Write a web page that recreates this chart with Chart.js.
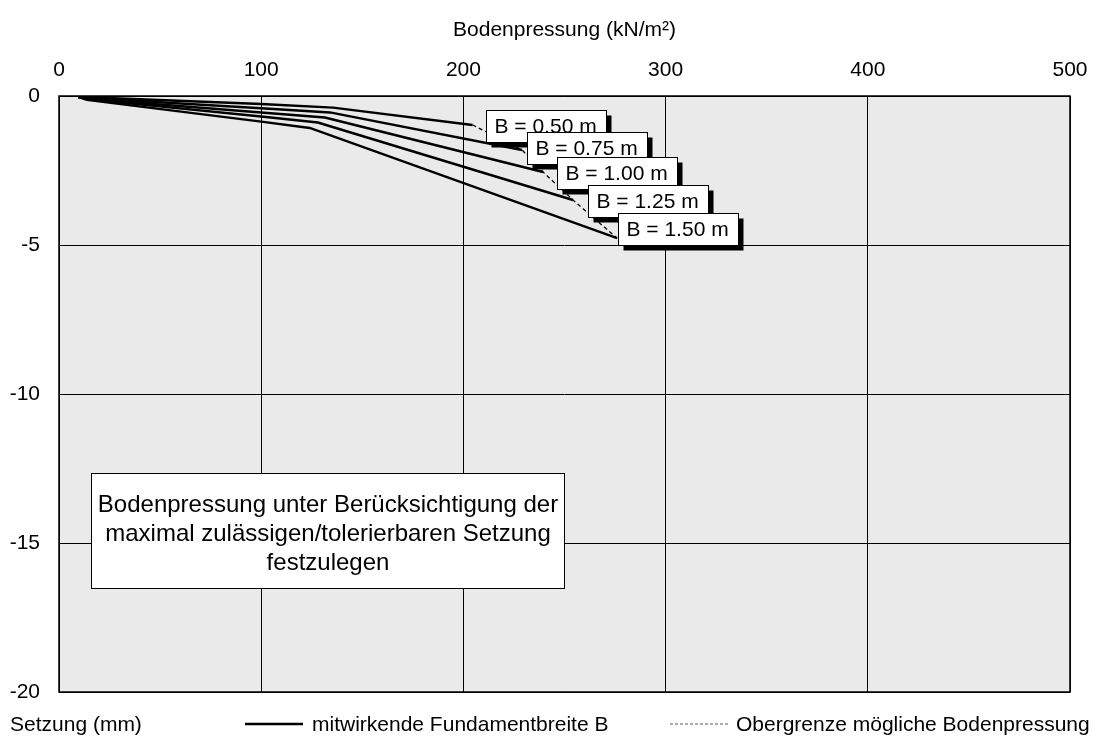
<!DOCTYPE html>
<html><head><meta charset="utf-8">
<script src="https://cdn.jsdelivr.net/npm/chart.js@4.4.1/dist/chart.umd.min.js"></script>
<style>html,body{margin:0;padding:0;background:#fff;}#wrap{width:1105px;height:744px;position:relative;}</style>
</head><body><div id="wrap"><canvas id="c"></canvas></div>
<script>
// ---- data ----
const seriesNames = ['B = 0.50 m','B = 0.75 m','B = 1.00 m','B = 1.25 m','B = 1.50 m'];
const pressB050 = [9.5, 13.8, 100, 135.5, 204.5];
const setzB050  = [-0.03, -0.04, -0.27, -0.39, -0.97];
const pressB075 = [9.5, 13.8, 100, 134, 229];
const setzB075  = [-0.03, -0.065, -0.41, -0.55, -1.81];
const pressB100 = [9.5, 13.8, 100, 131.5, 239.4];
const setzB100  = [-0.03, -0.09, -0.55, -0.72, -2.55];
const pressB125 = [9.5, 13.8, 100, 128, 254.2];
const setzB125  = [-0.03, -0.105, -0.69, -0.89, -3.49];
const pressB150 = [9.5, 13.8, 100, 124, 276];
const setzB150  = [-0.03, -0.13, -0.86, -1.07, -4.77];
const pressLimit = [204.5, 229, 239.4, 254.2, 276];
const setzLimit  = [-0.97, -1.81, -2.55, -3.49, -4.77];
const xTickValues = [0, 100, 200, 300, 400, 500];
const yTickValues = [0, -5, -10, -15, -20];
const xTitle = 'Bodenpressung (kN/m²)';
const yTitle = 'Setzung (mm)';
const legendSolid = 'mitwirkende Fundamentbreite B';
const legendDashed = 'Obergrenze mögliche Bodenpressung';
const noteLines = ['Bodenpressung unter Berücksichtigung der', 'maximal zulässigen/tolerierbaren Setzung', 'festzulegen'];

// ---- styling ----
const FONT = "'Liberation Sans', Arial, Helvetica, sans-serif";
const labelOffsets = [[14,-15],[5,-18],[14,-15],[15,-15],[1,-25]]; // px offset of label box from series end
const pairs = (xs, ys) => xs.map((x, i) => ({x, y: ys[i]}));
const solidSets = [[pressB050,setzB050],[pressB075,setzB075],[pressB100,setzB100],[pressB125,setzB125],[pressB150,setzB150]];

const datasets = solidSets.map((s, i) => ({
  label: seriesNames[i], data: pairs(s[0], s[1]), showLine: true,
  borderColor: '#000', borderWidth: 2.5, pointRadius: 0, tension: 0, fill: false
}));
datasets.push({
  label: legendDashed, data: pairs(pressLimit, setzLimit), showLine: true,
  borderColor: '#000', borderWidth: 1.3, borderDash: [4, 3], pointRadius: 0, tension: 0, fill: false
});

const deco = {
  id: 'deco',
  beforeDraw(chart) {
    const {ctx, chartArea: a} = chart;
    ctx.save(); ctx.fillStyle = '#eaeaea';
    ctx.fillRect(a.left, a.top, a.right - a.left, a.bottom - a.top);
    ctx.restore();
  },
  afterDatasetsDraw(chart) {
    const {ctx} = chart;
    ctx.save();
    // series labels
    ctx.font = '21px ' + FONT; ctx.textBaseline = 'middle'; ctx.textAlign = 'left';
    for (let i = 0; i < 5; i++) {
      const pts = chart.getDatasetMeta(i).data; const p = pts[pts.length - 1];
      const bx = Math.round(p.x + labelOffsets[i][0]) + 0.5, by = Math.round(p.y + labelOffsets[i][1]) + 0.5;
      const w = 120, h = 32;
      ctx.fillStyle = '#000'; ctx.fillRect(bx + 5, by + 5, w, h);
      ctx.fillStyle = '#fff'; ctx.fillRect(bx, by, w, h);
      ctx.strokeStyle = '#000'; ctx.lineWidth = 1; ctx.strokeRect(bx, by, w, h);
      ctx.fillStyle = '#000'; ctx.fillText(seriesNames[i], bx + 8, by + h / 2 + 1);
    }
    // note box
    ctx.fillStyle = '#fff'; ctx.fillRect(91.5, 473.5, 473, 115);
    ctx.strokeStyle = '#000'; ctx.lineWidth = 1; ctx.strokeRect(91.5, 473.5, 473, 115);
    ctx.fillStyle = '#000'; ctx.font = '24px ' + FONT; ctx.textAlign = 'center'; ctx.textBaseline = 'alphabetic';
    noteLines.forEach((t, k) => ctx.fillText(t, 328, 512 + k * 29));
    ctx.restore();
  },
  afterDraw(chart) {
    const {ctx, chartArea: a} = chart;
    ctx.save();
    ctx.strokeStyle = '#000'; ctx.lineWidth = 1.5;
    ctx.strokeRect(a.left, a.top, a.right - a.left, a.bottom - a.top);
    // footer: axis title + legend
    ctx.fillStyle = '#000'; ctx.font = '21px ' + FONT; ctx.textBaseline = 'middle'; ctx.textAlign = 'left';
    const fy = 725;
    ctx.fillText(yTitle, 10, fy);
    ctx.beginPath(); ctx.lineWidth = 2.5; ctx.setLineDash([]);
    ctx.moveTo(245, fy - 1); ctx.lineTo(303, fy - 1); ctx.stroke();
    ctx.fillText(legendSolid, 312, fy);
    ctx.beginPath(); ctx.lineWidth = 1; ctx.setLineDash([3, 2]); ctx.strokeStyle = '#555';
    ctx.moveTo(670, fy - 1); ctx.lineTo(728, fy - 1); ctx.stroke();
    ctx.setLineDash([]);
    ctx.fillText(legendDashed, 736, fy);
    ctx.restore();
  }
};

Chart.defaults.font.family = FONT;
Chart.defaults.font.size = 21;
Chart.defaults.color = '#000';

new Chart(document.getElementById('c'), {
  type: 'scatter',
  data: {datasets},
  options: {
    responsive: true, maintainAspectRatio: false, animation: false,
    devicePixelRatio: 1,
    layout: {padding: {left: 0, top: 0, right: 35, bottom: 52}},
    plugins: {legend: {display: false}, tooltip: {enabled: false}},
    scales: {
      x: {
        type: 'linear', position: 'top', min: 0, max: 500,
        afterBuildTicks: s => { s.ticks = xTickValues.map(v => ({value: v})); },
        afterFit: s => { s.height = 96; },
        ticks: {padding: 13, font: {size: 21}, color: '#000'},
        grid: {color: '#000', lineWidth: 1, drawTicks: false},
        border: {display: false},
        title: {display: true, text: xTitle, font: {size: 21}, color: '#000', padding: {top: 18, bottom: 0}}
      },
      y: {
        type: 'linear', min: -20, max: 0,
        afterBuildTicks: s => { s.ticks = yTickValues.map(v => ({value: v})); },
        afterFit: s => { s.width = 59; },
        ticks: {padding: 19, font: {size: 21}, color: '#000'},
        grid: {color: '#000', lineWidth: 1, drawTicks: false},
        border: {display: false}
      }
    }
  },
  plugins: [deco]
});
</script></body></html>
